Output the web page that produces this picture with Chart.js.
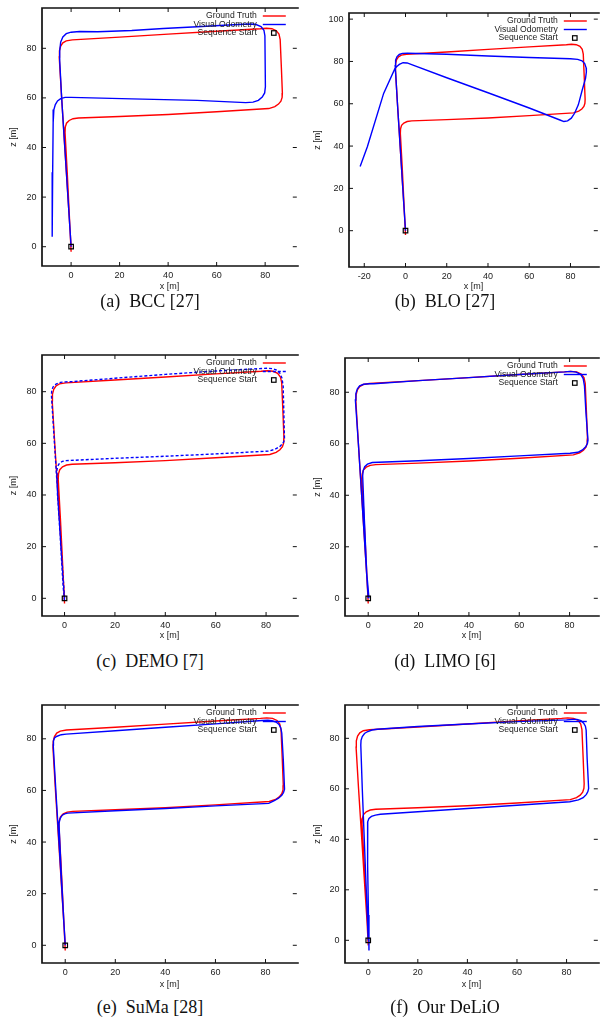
<!DOCTYPE html>
<html>
<head>
<meta charset="utf-8">
<script src="https://cdn.jsdelivr.net/npm/chart.js@4.4.1/dist/chart.umd.min.js"></script>
<style>
  html, body { margin: 0; padding: 0; background: #fff; }
  body { width: 602px; height: 1028px; overflow: hidden; position: relative; }
  canvas { position: absolute; }
  .cap { position: absolute; font-family: "Liberation Serif", "Times New Roman", serif; font-size: 18px; color: #111; white-space: pre; transform: translate(-50%, -50%); }
</style>
</head>
<body>
<canvas id="pA"></canvas>
<canvas id="pB"></canvas>
<canvas id="pC"></canvas>
<canvas id="pD"></canvas>
<canvas id="pE"></canvas>
<canvas id="pF"></canvas>
<div class="cap" style="left:150px;top:301px">(a)  BCC [27]</div>
<div class="cap" style="left:445px;top:301px">(b)  BLO [27]</div>
<div class="cap" style="left:150px;top:661px">(c)  DEMO [7]</div>
<div class="cap" style="left:445px;top:661px">(d)  LIMO [6]</div>
<div class="cap" style="left:150px;top:1007px">(e)  SuMa [28]</div>
<div class="cap" style="left:445px;top:1007px">(f)  Our DeLiO</div>
<script>
// Etiquetas de la leyenda y valores de las marcas de los ejes
const etiquetas = ['Ground Truth', 'Visual Odometry', 'Sequence Start'];
const marcasX = [-20, 0, 20, 40, 60, 80];
const marcasZ = [0, 20, 40, 60, 80, 100];

// Punto de inicio de la secuencia
const inicioX = [0];
const inicioZ = [0];

// Ground truth (igual en todas las graficas)
const gtX = [0, -1.3, -2.6, -3.9, -4.9, -4.8, -4.3, -3.4, -2.0, 0.5, 20, 40, 60, 78, 80.5, 82.8, 84.6, 85.7, 86.2, 86.7, 87.1, 87.0, 86.5, 85.5, 84.0, 81.5, 60, 40, 20, 3, 0.8, -0.8, -1.9, -2.4, -2.5, -1.6, -0.6, 0];
const gtZ = [0, 20, 40, 60, 76.5, 79, 80.9, 82.2, 83, 83.4, 84.5, 85.7, 86.9, 87.9, 88.1, 87.9, 87.1, 85.7, 83.5, 72, 62, 60.2, 58.7, 57.5, 56.5, 55.7, 54.4, 53.3, 52.5, 51.9, 51.6, 50.9, 49.8, 48.2, 46, 30, 10, -2];

// (a) BCC
const vaX = [0, -1.3, -2.6, -3.9, -4.7, -4.7, -4.3, -3.4, -2.0, 0, 3.5, 11, 25, 38, 52, 65, 73, 76, 78.3, 79.5, 79.9, 80.1, 79.8, 78.8, 77.2, 75, 72, 52, 25, 0, -2.5, -4.3, -5.6, -6.5, -7.1, -7.4, -7.6, -7.8];
const vaZ = [0, 20, 40, 60, 75, 79, 82.5, 84.6, 85.9, 86.5, 86.8, 86.7, 87.2, 88, 88.7, 89.4, 89.8, 89.7, 88.8, 87.3, 85, 64.5, 62, 60.3, 59, 58.3, 58.1, 59, 59.6, 60.2, 60.2, 59.7, 58.8, 57.3, 55.3, 50, 30, 4];

// (b) BLO
const vbX = [0, -1.3, -2.6, -3.9, -5.0, -4.8, -4.1, -3.0, -1.5, 1, 20, 40, 60, 80, 83.5, 85.6, 86.9, 87.6, 87.7, 87.3, 85.7, 83.8, 82.0, 80.4, 78.6, 76.8, 75.2, 60, 40, 20, 3, 0.8, -1.2, -3.0, -4.2, -5.1, -10.6, -18.5, -22];
const vbZ = [0, 20, 40, 60, 78, 80.6, 82.3, 83.3, 83.8, 83.9, 83.4, 82.6, 81.9, 81.3, 81, 80.3, 79, 77, 75, 72, 66.5, 59.5, 55.5, 53.2, 51.9, 51.6, 52.2, 58.0, 65.2, 72.3, 78.5, 79.3, 79.4, 78.6, 77.6, 76.7, 64.9, 39.7, 30.3];

// (c) DEMO
const vcX = [0, -1.4, -2.7, -4.0, -5.2, -5.1, -4.6, -3.4, -1.6, 0.5, 3.2, 20, 40, 60, 78.5, 80.6, 82.6, 84.3, 85.5, 86.3, 86.8, 87.3, 87.1, 86.5, 85.4, 83.6, 81, 60, 40, 20, 0.6, -0.9, -2.0, -2.7, -3.0, -2.8, -1.8, -0.6, 0];
const vcZ = [0, 20, 40, 60, 78.5, 80.3, 81.8, 82.9, 83.6, 83.8, 83.9, 85.2, 86.7, 88.0, 89.0, 89.1, 88.9, 88.3, 87.1, 85.3, 82, 62, 60.8, 59.8, 58.7, 57.7, 57, 55.9, 55.0, 54.2, 53.3, 53, 52.3, 51.2, 49.7, 40, 25, 5, -1];

// (d) LIMO
const vdX = [0, -1.3, -2.6, -3.9, -5.1, -4.9, -4.3, -3.4, -1.8, 0.5, 2.2, 20, 40, 60, 78, 80.3, 82.6, 84.4, 85.4, 85.9, 86.5, 87.3, 87.1, 86.4, 85.1, 83.3, 80.2, 60, 40, 20, 1.6, -0.3, -1.4, -2.0, -2.2, -1.5, -0.6, 0.3];
const vdZ = [0, 20, 40, 60, 77, 79.5, 81.3, 82.5, 83.1, 83.3, 83.3, 84.5, 85.7, 86.9, 87.9, 88.1, 87.8, 86.9, 85.3, 82.5, 72, 61.4, 60.2, 58.8, 57.6, 56.7, 56.3, 55.3, 54.3, 53.4, 52.7, 52.1, 51.1, 49.6, 47.5, 30, 10, 0];

// (e) SuMa
const veX = [0, -1.25, -2.5, -3.75, -4.8, -4.7, -4.3, -3.5, -1.6, 0.4, 20, 40, 60, 78.7, 81, 82.6, 84.2, 85.4, 86.1, 86.5, 87.1, 87.6, 87.2, 86.5, 85.2, 83.5, 81.3, 60, 40, 20, 1, -0.2, -1.2, -2.0, -2.5, -1.7, -0.6, 0];
const veZ = [0, 20, 40, 60, 77.6, 79.2, 80.3, 80.9, 81.6, 81.8, 83.1, 84.5, 85.8, 87.1, 87.2, 87.0, 86.5, 85.6, 84.2, 82.2, 72, 60.5, 59.2, 58.1, 57, 56, 55, 54.0, 53.0, 52.1, 51.2, 50.9, 50.4, 49.2, 47.3, 30, 10, 0];

// (f) DeLiO
const vfX = [0, -0.8, -1.6, -2.4, -3.0, -2.9, -2.4, -1.5, -0.4, 1.5, 3.6, 20, 40, 60, 80, 82.3, 84.2, 85.8, 86.9, 87.6, 87.9, 88.3, 88.9, 88.6, 88.0, 86.7, 84.8, 81.3, 60, 40, 20, 4.9, 2.9, 1.3, 0.3, -0.2, -0.4, -0.1, 0.1, 0.3];
const vfZ = [0, 20, 40, 60, 77.4, 79.2, 80.7, 81.9, 82.6, 83.3, 83.6, 84.7, 85.7, 86.6, 87.3, 87.5, 87.5, 87.0, 86.0, 84.8, 83.3, 72, 60.2, 58.9, 57.8, 56.5, 55.6, 54.9, 53.5, 52.2, 50.9, 49.9, 49.6, 49.1, 48.3, 47, 45, 30, 10, -4];

const rojo = 'rgb(255,0,0)';
const azul = 'rgb(0,0,255)';
const fuente = { family: '"Liberation Sans", Arial, sans-serif', size: 9 };

// Une dos listas en puntos {x, y}
function puntos(xs, zs) {
    return xs.map((x, i) => ({ x: x, y: zs[i] }));
}

// Deja solo las marcas que caen dentro del rango del eje
function fijarMarcas(valores) {
    return function(s) {
        s.ticks = valores.filter(v => v >= s.min && v <= s.max).map(v => ({ value: v }));
    };
}

// Marco y marcas hacia dentro (estilo gnuplot)
const marco = {
    id: 'marco',
    afterDatasetsDraw(chart) {
        const { ctx, chartArea: a, scales } = chart;
        ctx.save();
        ctx.strokeStyle = '#111';
        ctx.lineWidth = 1;
        ctx.beginPath();
        scales.x.ticks.forEach(t => {
            const px = scales.x.getPixelForValue(t.value);
            ctx.moveTo(px, a.bottom); ctx.lineTo(px, a.bottom - 4);
            ctx.moveTo(px, a.top); ctx.lineTo(px, a.top + 4);
        });
        scales.y.ticks.forEach(t => {
            const py = scales.y.getPixelForValue(t.value);
            ctx.moveTo(a.left, py); ctx.lineTo(a.left + 4, py);
            ctx.moveTo(a.right, py); ctx.lineTo(a.right - 4, py);
        });
        ctx.stroke();
        ctx.lineWidth = 1.7;
        ctx.beginPath();
        ctx.moveTo(a.right + 2, a.top);
        ctx.lineTo(a.left, a.top);
        ctx.lineTo(a.left, a.bottom);
        ctx.lineTo(a.right + 2, a.bottom);
        ctx.stroke();
        ctx.restore();
    }
};

// Leyenda dentro del area, arriba a la derecha
const leyenda = {
    id: 'leyenda',
    afterDatasetsDraw(chart) {
        const { ctx, chartArea: a } = chart;
        const filas = [a.top + 8, a.top + 16.5, a.top + 25];
        ctx.save();
        ctx.font = '8.6px "Liberation Sans", Arial, sans-serif';
        ctx.fillStyle = '#222';
        ctx.textAlign = 'right';
        ctx.textBaseline = 'middle';
        etiquetas.forEach((t, i) => ctx.fillText(t, a.right - 40, filas[i]));
        ctx.lineWidth = 1.4;
        ctx.strokeStyle = rojo;
        ctx.beginPath(); ctx.moveTo(a.right - 34, filas[0]); ctx.lineTo(a.right - 11, filas[0]); ctx.stroke();
        ctx.strokeStyle = azul;
        ctx.setLineDash(chart.data.datasets[1].borderDash || []);
        ctx.beginPath(); ctx.moveTo(a.right - 34, filas[1]); ctx.lineTo(a.right - 11, filas[1]); ctx.stroke();
        ctx.setLineDash([]);
        ctx.strokeStyle = '#000';
        ctx.lineWidth = 1.2;
        ctx.strokeRect(a.right - 23 - 2.25, filas[2] - 2.25, 4.5, 4.5);
        ctx.restore();
    }
};

const paneles = [
    { id: 'pA', left: 0, top: 0, w: 302, h: 294, ancho: 42, alto: 28, padTop: 8, xr: [-12, 93.05], yr: [-7.78, 96.25], vx: vaX, vz: vaZ, guion: false, tz: 8 },
    { id: 'pB', left: 301, top: 0, w: 302, h: 294, ancho: 48, alto: 27, padTop: 13, xr: [-27.4, 93.25], yr: [-17.16, 102.9], vx: vbX, vz: vbZ, guion: false, tz: 11.4 },
    { id: 'pC', left: 0, top: 340, w: 302, h: 303, ancho: 42, alto: 27, padTop: 15, xr: [-8.95, 92.2], yr: [-6.85, 94.2], vx: vcX, vz: vcZ, guion: true, tz: 8 },
    { id: 'pD', left: 301, top: 340, w: 302, h: 303, ancho: 44, alto: 27, padTop: 18, xr: [-9.22, 91.2], yr: [-6.87, 93.3], vx: vdX, vz: vdZ, guion: false, tz: 11.4 },
    { id: 'pE', left: 0, top: 690, w: 302, h: 302, ancho: 42, alto: 29, padTop: 15, xr: [-9.28, 92.5], yr: [-6.86, 93.1], vx: veX, vz: veZ, guion: false, tz: 8 },
    { id: 'pF', left: 301, top: 690, w: 302, h: 302, ancho: 44, alto: 29, padTop: 15, xr: [-9.37, 92.6], yr: [-8.99, 93.2], vx: vfX, vz: vfZ, guion: false, tz: 11.4 }
];

// Función para crear cada grafica
function crearPanel(p) {
    const canvas = document.getElementById(p.id);
    canvas.width = p.w;
    canvas.height = p.h;
    canvas.style.left = p.left + 'px';
    canvas.style.top = p.top + 'px';

    new Chart(canvas, {
        type: 'scatter',
        data: {
            datasets: [
                { label: etiquetas[2], data: puntos(inicioX, inicioZ), pointStyle: 'rect', pointRadius: 3.2, borderColor: '#000', borderWidth: 1.2, backgroundColor: 'rgba(255,255,255,0)', order: 0 },
                { label: etiquetas[1], data: puntos(p.vx, p.vz), showLine: true, borderColor: azul, borderWidth: 1.4, borderDash: p.guion ? [3, 2] : [], pointRadius: 0, order: 1 },
                { label: etiquetas[0], data: puntos(gtX, gtZ), showLine: true, borderColor: rojo, borderWidth: 1.4, pointRadius: 0, order: 2 }
            ]
        },
        options: {
            responsive: false,
            animation: false,
            devicePixelRatio: 1,
            layout: { padding: { top: p.padTop, left: 0, right: 0, bottom: 0 } },
            plugins: { legend: { display: false }, tooltip: { enabled: false } },
            scales: {
                x: {
                    type: 'linear', min: p.xr[0], max: p.xr[1],
                    grid: { display: false, drawTicks: false }, border: { display: false },
                    ticks: { padding: 4, color: '#222', font: fuente },
                    afterBuildTicks: fijarMarcas(marcasX),
                    title: { display: true, text: 'x [m]', color: '#222', font: fuente, padding: { top: 0, bottom: 2 } },
                    afterFit: s => { s.height = p.alto; s.paddingLeft = 0; s.paddingRight = 0; }
                },
                y: {
                    type: 'linear', min: p.yr[0], max: p.yr[1],
                    grid: { display: false, drawTicks: false }, border: { display: false },
                    ticks: { padding: 5.5, color: '#222', font: fuente },
                    afterBuildTicks: fijarMarcas(marcasZ),
                    title: { display: true, text: 'z [m]', color: '#222', font: fuente, padding: { top: p.tz, bottom: 0 } },
                    afterFit: s => { s.width = p.ancho; s.paddingTop = 0; s.paddingBottom = 0; }
                }
            }
        },
        plugins: [marco, leyenda]
    });
}

paneles.forEach(crearPanel);
</script>
</body>
</html>
